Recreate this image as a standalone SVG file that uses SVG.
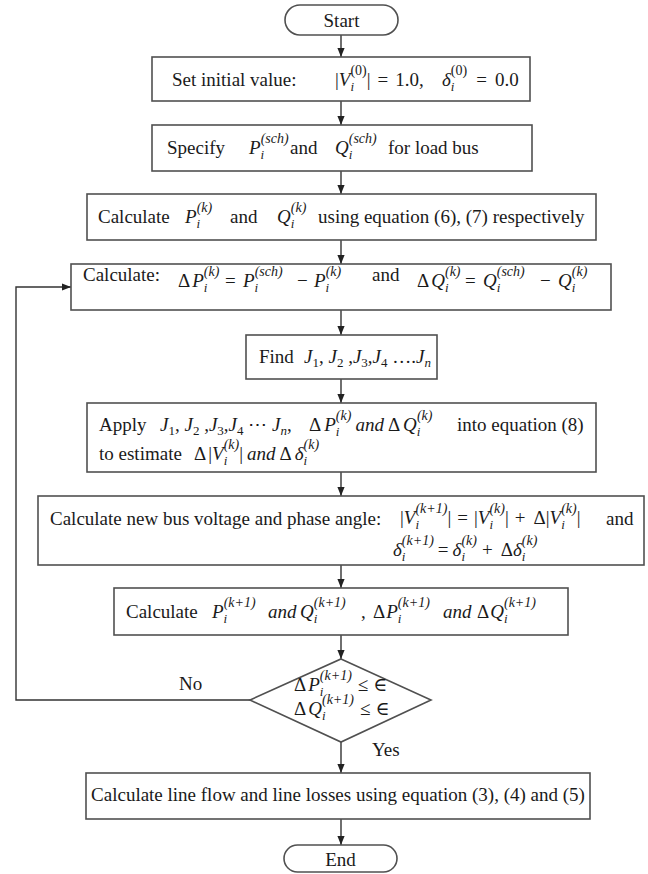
<svg xmlns="http://www.w3.org/2000/svg" width="648" height="874" viewBox="0 0 648 874">
<style>
.t{font-family:"Liberation Serif","DejaVu Serif",serif;font-size:19px;fill:#1a1a1a}
.v{font-style:italic}
.s{font-size:14px}
.b{font-size:13px}
.box{fill:#fff;stroke:#505050;stroke-width:1.6}
.ln{fill:none;stroke:#333;stroke-width:1.4}
</style>
<defs>
<marker id="ah" viewBox="0 0 10 8" refX="10" refY="4" markerWidth="9" markerHeight="7.2" markerUnits="userSpaceOnUse" orient="auto"><path d="M0,0 L10,4 L0,8 z" fill="#222"/></marker>
</defs>
<rect width="648" height="874" fill="#fff"/>

<g id="connectors" class="ln">
<line x1="341" y1="35" x2="341" y2="57" marker-end="url(#ah)"/>
<line x1="341" y1="101" x2="341" y2="125" marker-end="url(#ah)"/>
<line x1="341" y1="171" x2="341" y2="194" marker-end="url(#ah)"/>
<line x1="341" y1="240" x2="341" y2="264" marker-end="url(#ah)"/>
<line x1="341" y1="310" x2="341" y2="335" marker-end="url(#ah)"/>
<line x1="341" y1="379" x2="341" y2="403" marker-end="url(#ah)"/>
<line x1="341" y1="472" x2="341" y2="496" marker-end="url(#ah)"/>
<line x1="341" y1="565" x2="341" y2="588" marker-end="url(#ah)"/>
<line x1="341" y1="635" x2="341" y2="659" marker-end="url(#ah)"/>
<line x1="341" y1="742" x2="341" y2="773" marker-end="url(#ah)"/>
<line x1="341" y1="819" x2="341" y2="845" marker-end="url(#ah)"/>
<polyline points="250,700 16,700 16,287 71,287" marker-end="url(#ah)"/>
<text class="t" x="179" y="690" stroke="none">No</text>
<text class="t" x="372" y="756" stroke="none">Yes</text>
</g>

<g id="start">
<rect class="box" x="285" y="5" width="113" height="30" rx="15"/>
<text class="t" x="341.5" y="27" text-anchor="middle">Start</text>
</g>

<g id="init">
<rect class="box" x="152" y="57" width="378" height="44"/>
<text class="t" x="172" y="86">Set initial value:</text>
<text class="t" x="335" y="86">|<tspan class="v">V</tspan><tspan class="b v" dy="5">i</tspan><tspan class="s" dx="-3.6" dy="-16">(0)</tspan><tspan dy="11">|</tspan><tspan dx="7">=</tspan><tspan dx="7">1.0,</tspan></text>
<text class="t" x="442" y="86"><tspan class="v">δ</tspan><tspan class="b v" dy="5">i</tspan><tspan class="s" dx="-3.6" dy="-16">(0)</tspan><tspan dy="11" dx="9">=</tspan><tspan dx="8">0.0</tspan></text>
</g>

<g id="specify">
<rect class="box" x="152" y="125" width="380" height="46"/>
<text class="t" x="167" y="154">Specify</text>
<text class="t" x="249" y="154"><tspan class="v">P</tspan><tspan class="b v" dy="5">i</tspan><tspan class="s v" dx="-3.6" dy="-16">(sch)</tspan></text>
<text class="t" x="290" y="154">and</text>
<text class="t" x="335" y="154"><tspan class="v">Q</tspan><tspan class="b v" dy="5">i</tspan><tspan class="s v" dx="-3.6" dy="-16">(sch)</tspan></text>
<text class="t" x="388" y="154">for load bus</text>
</g>

<g id="calc-pq">
<rect class="box" x="87" y="194" width="509" height="46"/>
<text class="t" x="98" y="223">Calculate</text>
<text class="t" x="185" y="223"><tspan class="v">P</tspan><tspan class="b v" dy="5">i</tspan><tspan class="s v" dx="-3.6" dy="-16">(k)</tspan></text>
<text class="t" x="230" y="223">and</text>
<text class="t" x="277" y="223"><tspan class="v">Q</tspan><tspan class="b v" dy="5">i</tspan><tspan class="s v" dx="-3.6" dy="-16">(k)</tspan></text>
<text class="t" x="318" y="223">using equation (6), (7) respectively</text>
</g>

<g id="calc-mismatch">
<rect class="box" x="71" y="264" width="540" height="46"/>
<text class="t" x="83" y="281">Calculate:</text>
<text class="t" x="178" y="287">Δ<tspan class="v" dx="2">P</tspan><tspan class="b v" dy="5">i</tspan><tspan class="s v" dx="-3.6" dy="-16">(k)</tspan></text>
<text class="t" x="225" y="287">=</text>
<text class="t" x="243" y="287"><tspan class="v">P</tspan><tspan class="b v" dy="5">i</tspan><tspan class="s v" dx="-3.6" dy="-16">(sch)</tspan></text>
<text class="t" x="297" y="287">−</text>
<text class="t" x="314" y="287"><tspan class="v">P</tspan><tspan class="b v" dy="5">i</tspan><tspan class="s v" dx="-3.6" dy="-16">(k)</tspan></text>
<text class="t" x="372" y="281">and</text>
<text class="t" x="417" y="287">Δ<tspan class="v" dx="2">Q</tspan><tspan class="b v" dy="5">i</tspan><tspan class="s v" dx="-3.6" dy="-16">(k)</tspan></text>
<text class="t" x="465" y="287">=</text>
<text class="t" x="483" y="287"><tspan class="v">Q</tspan><tspan class="b v" dy="5">i</tspan><tspan class="s v" dx="-3.6" dy="-16">(sch)</tspan></text>
<text class="t" x="540" y="287">−</text>
<text class="t" x="558" y="287"><tspan class="v">Q</tspan><tspan class="b v" dy="5">i</tspan><tspan class="s v" dx="-3.6" dy="-16">(k)</tspan></text>
</g>

<g id="find-j">
<rect class="box" x="246" y="335" width="191" height="44"/>
<text class="t" x="259" y="363">Find</text>
<text class="t" x="304" y="363"><tspan class="v">J</tspan><tspan class="b" dy="4">1</tspan><tspan dy="-4">, </tspan><tspan class="v">J</tspan><tspan class="b" dy="4">2</tspan><tspan dy="-4"> ,</tspan><tspan class="v">J</tspan><tspan class="b" dy="4">3</tspan><tspan dy="-4">,</tspan><tspan class="v">J</tspan><tspan class="b" dy="4">4</tspan><tspan dy="-4"> ….</tspan><tspan class="v">J</tspan><tspan class="b v" dy="4">n</tspan></text>
</g>

<g id="apply">
<rect class="box" x="87" y="403" width="509" height="69"/>
<text class="t" x="99" y="431">Apply</text>
<text class="t" x="160" y="431"><tspan class="v">J</tspan><tspan class="b" dy="4">1</tspan><tspan dy="-4">, </tspan><tspan class="v">J</tspan><tspan class="b" dy="4">2</tspan><tspan dy="-4"> ,</tspan><tspan class="v">J</tspan><tspan class="b" dy="4">3</tspan><tspan dy="-4">,</tspan><tspan class="v">J</tspan><tspan class="b" dy="4">4</tspan><tspan dy="-4"> ⋯ </tspan><tspan class="v">J</tspan><tspan class="b v" dy="4">n</tspan><tspan dy="-4">,</tspan></text>
<text class="t" x="309" y="431">Δ<tspan class="v" dx="3">P</tspan><tspan class="b v" dy="5">i</tspan><tspan class="s v" dx="-3.6" dy="-16">(k)</tspan><tspan class="v" dy="11" dx="4">and</tspan><tspan dx="4">Δ</tspan><tspan class="v" dx="3">Q</tspan><tspan class="b v" dy="5">i</tspan><tspan class="s v" dx="-3.6" dy="-16">(k)</tspan></text>
<text class="t" x="457" y="431">into equation (8)</text>
<text class="t" x="99" y="460">to estimate</text>
<text class="t" x="194" y="460">Δ<tspan dx="2">|</tspan><tspan class="v">V</tspan><tspan class="b v" dy="5">i</tspan><tspan class="s v" dx="-3.6" dy="-16">(k)</tspan><tspan dy="11">|</tspan><tspan class="v" dx="4">and</tspan><tspan dx="4">Δ</tspan><tspan class="v" dx="3">δ</tspan><tspan class="b v" dy="5">i</tspan><tspan class="s v" dx="-3.6" dy="-16">(k)</tspan></text>
</g>

<g id="update">
<rect class="box" x="38" y="496" width="606" height="69"/>
<text class="t" x="50" y="525">Calculate new bus voltage and phase angle:</text>
<text class="t" x="400" y="524">|<tspan class="v">V</tspan><tspan class="b v" dy="5">i</tspan><tspan class="s v" dx="-3.6" dy="-16">(k+1)</tspan><tspan dy="11">|</tspan><tspan dx="6">=</tspan><tspan dx="6">|</tspan><tspan class="v">V</tspan><tspan class="b v" dy="5">i</tspan><tspan class="s v" dx="-3.6" dy="-16">(k)</tspan><tspan dy="11">|</tspan><tspan dx="6">+</tspan><tspan dx="8">Δ|</tspan><tspan class="v">V</tspan><tspan class="b v" dy="5">i</tspan><tspan class="s v" dx="-3.6" dy="-16">(k)</tspan><tspan dy="11">|</tspan></text>
<text class="t" x="606" y="525">and</text>
<text class="t" x="393" y="556"><tspan class="v">δ</tspan><tspan class="b v" dy="5">i</tspan><tspan class="s v" dx="-3.6" dy="-16">(k+1)</tspan><tspan dy="11" dx="4">=</tspan><tspan class="v" dx="4">δ</tspan><tspan class="b v" dy="5">i</tspan><tspan class="s v" dx="-3.6" dy="-16">(k)</tspan><tspan dy="11" dx="5">+</tspan><tspan dx="8">Δ</tspan><tspan class="v">δ</tspan><tspan class="b v" dy="5">i</tspan><tspan class="s v" dx="-3.6" dy="-16">(k)</tspan></text>
</g>

<g id="calc-next">
<rect class="box" x="114" y="588" width="454" height="47"/>
<text class="t" x="126" y="618">Calculate</text>
<text class="t" x="212" y="618"><tspan class="v">P</tspan><tspan class="b v" dy="5">i</tspan><tspan class="s v" dx="-3.6" dy="-16">(k+1)</tspan></text>
<text class="t v" x="268" y="618">and</text>
<text class="t" x="300" y="618"><tspan class="v">Q</tspan><tspan class="b v" dy="5">i</tspan><tspan class="s v" dx="-3.6" dy="-16">(k+1)</tspan></text>
<text class="t" x="361" y="618">,</text>
<text class="t" x="373" y="618">Δ<tspan class="v" dx="1">P</tspan><tspan class="b v" dy="5">i</tspan><tspan class="s v" dx="-3.6" dy="-16">(k+1)</tspan></text>
<text class="t v" x="443" y="618">and</text>
<text class="t" x="477" y="618">Δ<tspan class="v" dx="1">Q</tspan><tspan class="b v" dy="5">i</tspan><tspan class="s v" dx="-3.6" dy="-16">(k+1)</tspan></text>
</g>

<g id="converged">
<polygon class="box" points="341,659 431,700 341,742 250,700"/>
<text class="t" x="294" y="691">Δ<tspan class="v" dx="2">P</tspan><tspan class="b v" dy="5">i</tspan><tspan class="s v" dx="-3.6" dy="-16">(k+1)</tspan><tspan dy="11" dx="6">≤</tspan><tspan dx="5">∈</tspan></text>
<text class="t" x="294" y="715">Δ<tspan class="v" dx="2">Q</tspan><tspan class="b v" dy="5">i</tspan><tspan class="s v" dx="-3.6" dy="-16">(k+1)</tspan><tspan dy="11" dx="6">≤</tspan><tspan dx="5">∈</tspan></text>
</g>

<g id="line-flow">
<rect class="box" x="86" y="773" width="504" height="46"/>
<text class="t" x="338" y="801" text-anchor="middle">Calculate line flow and line losses using equation (3), (4) and (5)</text>
</g>

<g id="end">
<rect class="box" x="284" y="845" width="113" height="27" rx="13.5"/>
<text class="t" x="340.5" y="866" text-anchor="middle">End</text>
</g>
</svg>
